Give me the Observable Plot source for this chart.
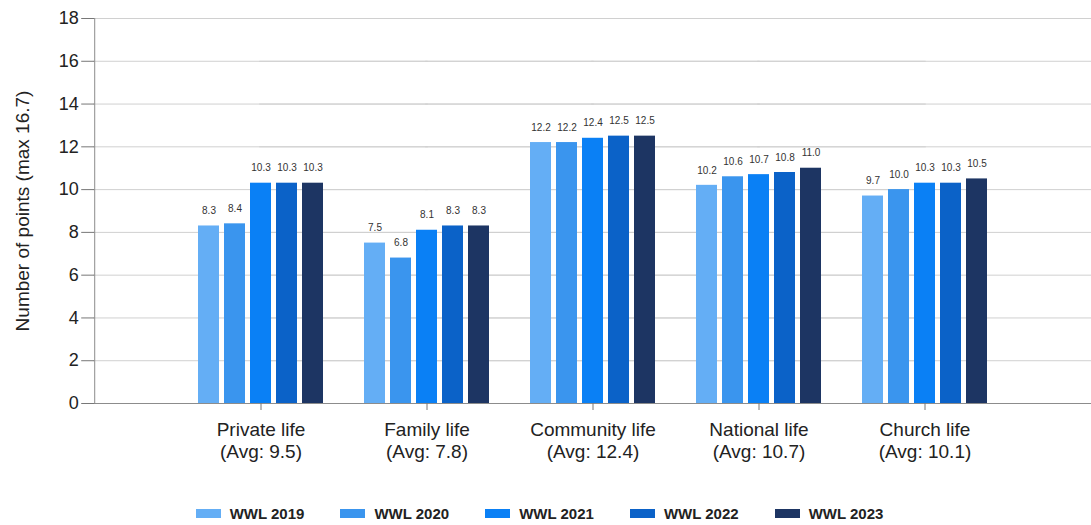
<!DOCTYPE html>
<html>
<head>
<meta charset="utf-8">
<script src="https://cdn.jsdelivr.net/npm/d3@7"></script>
<script src="https://cdn.jsdelivr.net/npm/@observablehq/plot@0.6"></script>
<style>
  body { margin: 0; background: #fff; font-family: "Liberation Sans", Arial, sans-serif; }
  #legend { display: flex; justify-content: center; gap: 36px; margin-top: 35px; padding-right: 12px; }
  .item { display: flex; align-items: center; gap: 9px; font-weight: bold; font-size: 15px; color: #222; }
  .sw { width: 25px; height: 9px; }
</style>
</head>
<body>
<div id="chart"></div>
<div id="legend"></div>
<script>
const categories = ["Private life", "Family life", "Community life", "National life", "Church life"];
const averages = ["9.5", "7.8", "12.4", "10.7", "10.1"];
const years = ["WWL 2019", "WWL 2020", "WWL 2021", "WWL 2022", "WWL 2023"];
const values2019 = [8.3, 7.5, 12.2, 10.2, 9.7];
const values2020 = [8.4, 6.8, 12.2, 10.6, 10.0];
const values2021 = [10.3, 8.1, 12.4, 10.7, 10.3];
const values2022 = [10.3, 8.3, 12.5, 10.8, 10.3];
const values2023 = [10.3, 8.3, 12.5, 11.0, 10.5];
const colors = ["#64aef5", "#3a95ee", "#0a80f5", "#0b62c8", "#1d3563"];
const yTicks = [0, 2, 4, 6, 8, 10, 12, 14, 16, 18];
const yTitle = "Number of points (max 16.7)";

const series = [values2019, values2020, values2021, values2022, values2023];
const catLabels = categories.map((c, i) => `${c}\n(Avg: ${averages[i]})`);
const data = catLabels.flatMap((c, i) => years.map((y, j) => ({category: c, year: y, value: series[j][i]})));
const fmt = d3.format(".1f");
const font = '"Liberation Sans", Arial, sans-serif';

// layout
const W = 1091, ML = 93, MR = 0;
const pInner = 0.224, pOuter = 0.612;
const step = (W - ML - MR) / (categories.length - pInner + 2 * pOuter);
const off = pOuter * step; // distance from frame edge to first/last facet

const chart = Plot.plot({
  width: W,
  height: 470,
  marginLeft: ML,
  marginRight: MR,
  marginTop: 18,
  marginBottom: 67,
  style: {fontFamily: font, background: "white", color: "#222"},
  fx: {domain: catLabels, paddingInner: pInner, paddingOuter: pOuter, label: null},
  x: {domain: years, paddingInner: 0.178, paddingOuter: 0, axis: null},
  y: {domain: [0, 18], axis: null},
  color: {domain: years, range: colors},
  marks: [
    Plot.ruleY(yTicks.filter(d => d > 0), {stroke: "#d0d0d0", insetLeft: -off - 1, insetRight: -off - 1}),
    Plot.barY(data, {fx: "category", x: "year", y: "value", fill: "year"}),
    Plot.text(data, {fx: "category", x: "year", y: "value", text: d => fmt(d.value), dy: -15, fontSize: 10, fill: "#333"}),
    Plot.ruleY([0], {stroke: "#8c8c8c", insetLeft: -off - 1, insetRight: -off - 1}),
    Plot.frame({anchor: "left", facetAnchor: "left", dx: -off, stroke: "#8c8c8c"}),
    Plot.axisY({ticks: yTicks, tickSize: 13, tickPadding: 3, fontSize: 18, label: null, stroke: "#777", color: "#222", dx: -off, facetAnchor: "left"}),
    Plot.axisFx({anchor: "bottom", tickSize: 7, tickPadding: 10, fontSize: 19, lineHeight: 1.15, label: null, stroke: "#777", color: "#222"}),
    Plot.text([yTitle], {frameAnchor: "left", facetAnchor: "left", textAnchor: "middle", lineAnchor: "middle", rotate: -90, dx: -off - 72, fontSize: 19, fill: "#222"})
  ]
});
document.getElementById("chart").appendChild(chart);

const legend = document.getElementById("legend");
years.forEach((y, i) => {
  const item = document.createElement("div");
  item.className = "item";
  const sw = document.createElement("span");
  sw.className = "sw";
  sw.style.background = colors[i];
  const t = document.createElement("span");
  t.textContent = y;
  item.appendChild(sw);
  item.appendChild(t);
  legend.appendChild(item);
});
</script>
</body>
</html>
